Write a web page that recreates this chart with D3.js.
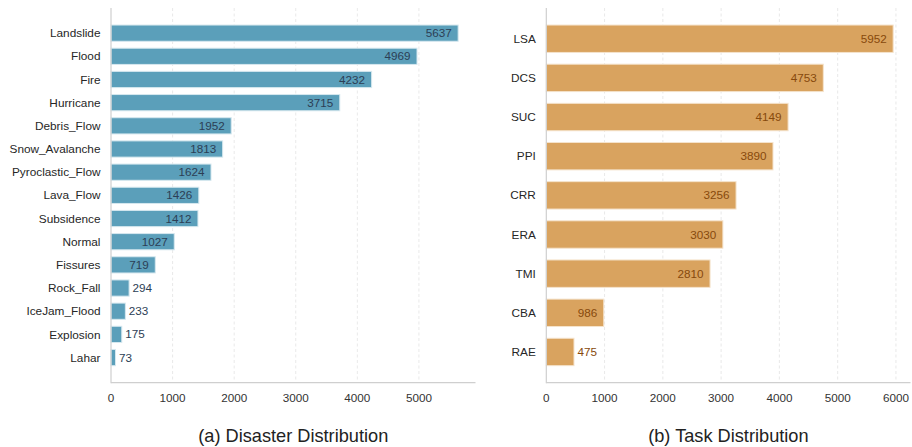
<!DOCTYPE html>
<html>
<head>
<meta charset="utf-8">
<script src="https://cdn.jsdelivr.net/npm/d3@7"></script>
<style>
  body { margin: 0; background: #fff; }
  svg text { font-family: "Liberation Sans", Arial, sans-serif; }
</style>
</head>
<body>
<div id="viz"></div>
<script>
// data
var disasterNames = ["Landslide", "Flood", "Fire", "Hurricane", "Debris_Flow", "Snow_Avalanche",
  "Pyroclastic_Flow", "Lava_Flow", "Subsidence", "Normal", "Fissures", "Rock_Fall",
  "IceJam_Flood", "Explosion", "Lahar"];
var disasterCounts = [5637, 4969, 4232, 3715, 1952, 1813, 1624, 1426, 1412, 1027, 719, 294, 233, 175, 73];

var taskNames = ["LSA", "DCS", "SUC", "PPI", "CRR", "ERA", "TMI", "CBA", "RAE"];
var taskCounts = [5952, 4753, 4149, 3890, 3256, 3030, 2810, 986, 475];

var xTicksA = [0, 1000, 2000, 3000, 4000, 5000];
var xTicksB = [0, 1000, 2000, 3000, 4000, 5000, 6000];

var w = 912, h = 447;
var svg = d3.select("#viz").append("svg")
  .attr("width", w)
  .attr("height", h);

var drawPanel = function(opts) {
  var names = opts.names, vals = opts.vals;
  var n = names.length;
  var top = 8, bottom = 382.7;

  var x = d3.scaleLinear()
    .domain([0, d3.max(vals) * 1.05])
    .range([opts.left, opts.right]);

  // matplotlib style: bar height 0.7, 5% margins
  var lo = -0.35, hi = (n - 1) + 0.35, pad = (hi - lo) * 0.05;
  var y = d3.scaleLinear()
    .domain([lo - pad, hi + pad])
    .range([top, bottom]);
  var bh = y(0.35) - y(-0.35);

  var g = svg.append("g");

  // dashed grid
  g.selectAll("line.grid")
    .data(opts.ticks.filter(function(d) { return d > 0; }))
    .enter()
    .append("line")
    .attr("class", "grid")
    .attr("x1", function(d) { return x(d); })
    .attr("x2", function(d) { return x(d); })
    .attr("y1", top)
    .attr("y2", bottom)
    .attr("stroke", "#e3e3e3")
    .attr("stroke-width", 0.8)
    .attr("stroke-dasharray", "3,2.5");

  // bars
  g.selectAll("rect")
    .data(vals)
    .enter()
    .append("rect")
    .attr("x", x(0))
    .attr("y", function(d, i) { return y(i) - bh / 2; })
    .attr("width", function(d) { return x(d) - x(0); })
    .attr("height", bh)
    .attr("fill", opts.color)
    .attr("stroke", opts.edge)
    .attr("stroke-width", 1);

  // value labels
  g.selectAll("text.val")
    .data(vals)
    .enter()
    .append("text")
    .attr("class", "val")
    .attr("x", function(d) {
      return d < opts.inside ? x(d) + 3.5 : x(d) - 6.5;
    })
    .attr("y", function(d, i) { return y(i); })
    .attr("dy", "0.35em")
    .attr("text-anchor", function(d) { return d < opts.inside ? "start" : "end"; })
    .attr("font-size", 11.7)
    .attr("fill", opts.labelColor)
    .text(function(d) { return d; });

  // category labels
  g.selectAll("text.cat")
    .data(names)
    .enter()
    .append("text")
    .attr("class", "cat")
    .attr("x", opts.left - 10.5)
    .attr("y", function(d, i) { return y(i); })
    .attr("dy", "0.35em")
    .attr("text-anchor", "end")
    .attr("font-size", 11.8)
    .attr("fill", "#262626")
    .text(function(d) { return d; });

  // spines
  g.append("line")
    .attr("x1", opts.left).attr("x2", opts.left)
    .attr("y1", top).attr("y2", bottom + 0.6)
    .attr("stroke", "#cfcfcf").attr("stroke-width", 1.2);
  g.append("line")
    .attr("x1", opts.left).attr("x2", opts.right)
    .attr("y1", bottom).attr("y2", bottom)
    .attr("stroke", "#cfcfcf").attr("stroke-width", 1.2);

  // x tick labels
  g.selectAll("text.tick")
    .data(opts.ticks)
    .enter()
    .append("text")
    .attr("class", "tick")
    .attr("x", function(d) { return x(d); })
    .attr("y", 402)
    .attr("text-anchor", "middle")
    .attr("font-size", 11.7)
    .attr("fill", "#333")
    .text(function(d) { return d; });

  // subtitle
  g.append("text")
    .attr("x", (opts.left + opts.right) / 2)
    .attr("y", 442)
    .attr("text-anchor", "middle")
    .attr("font-size", 18.2)
    .attr("fill", "#222")
    .text(opts.title);
};

drawPanel({
  names: disasterNames, vals: disasterCounts, ticks: xTicksA,
  left: 111, right: 475.5,
  color: "#5b9fba", edge: "#d6e8ef", labelColor: "#2c3e55", inside: 500,
  title: "(a) Disaster Distribution"
});

drawPanel({
  names: taskNames, vals: taskCounts, ticks: xTicksB,
  left: 546.3, right: 910.5,
  color: "#d9a35f", edge: "#f5e3cc", labelColor: "#87490c", inside: 700,
  title: "(b) Task Distribution"
});
</script>
</body>
</html>
